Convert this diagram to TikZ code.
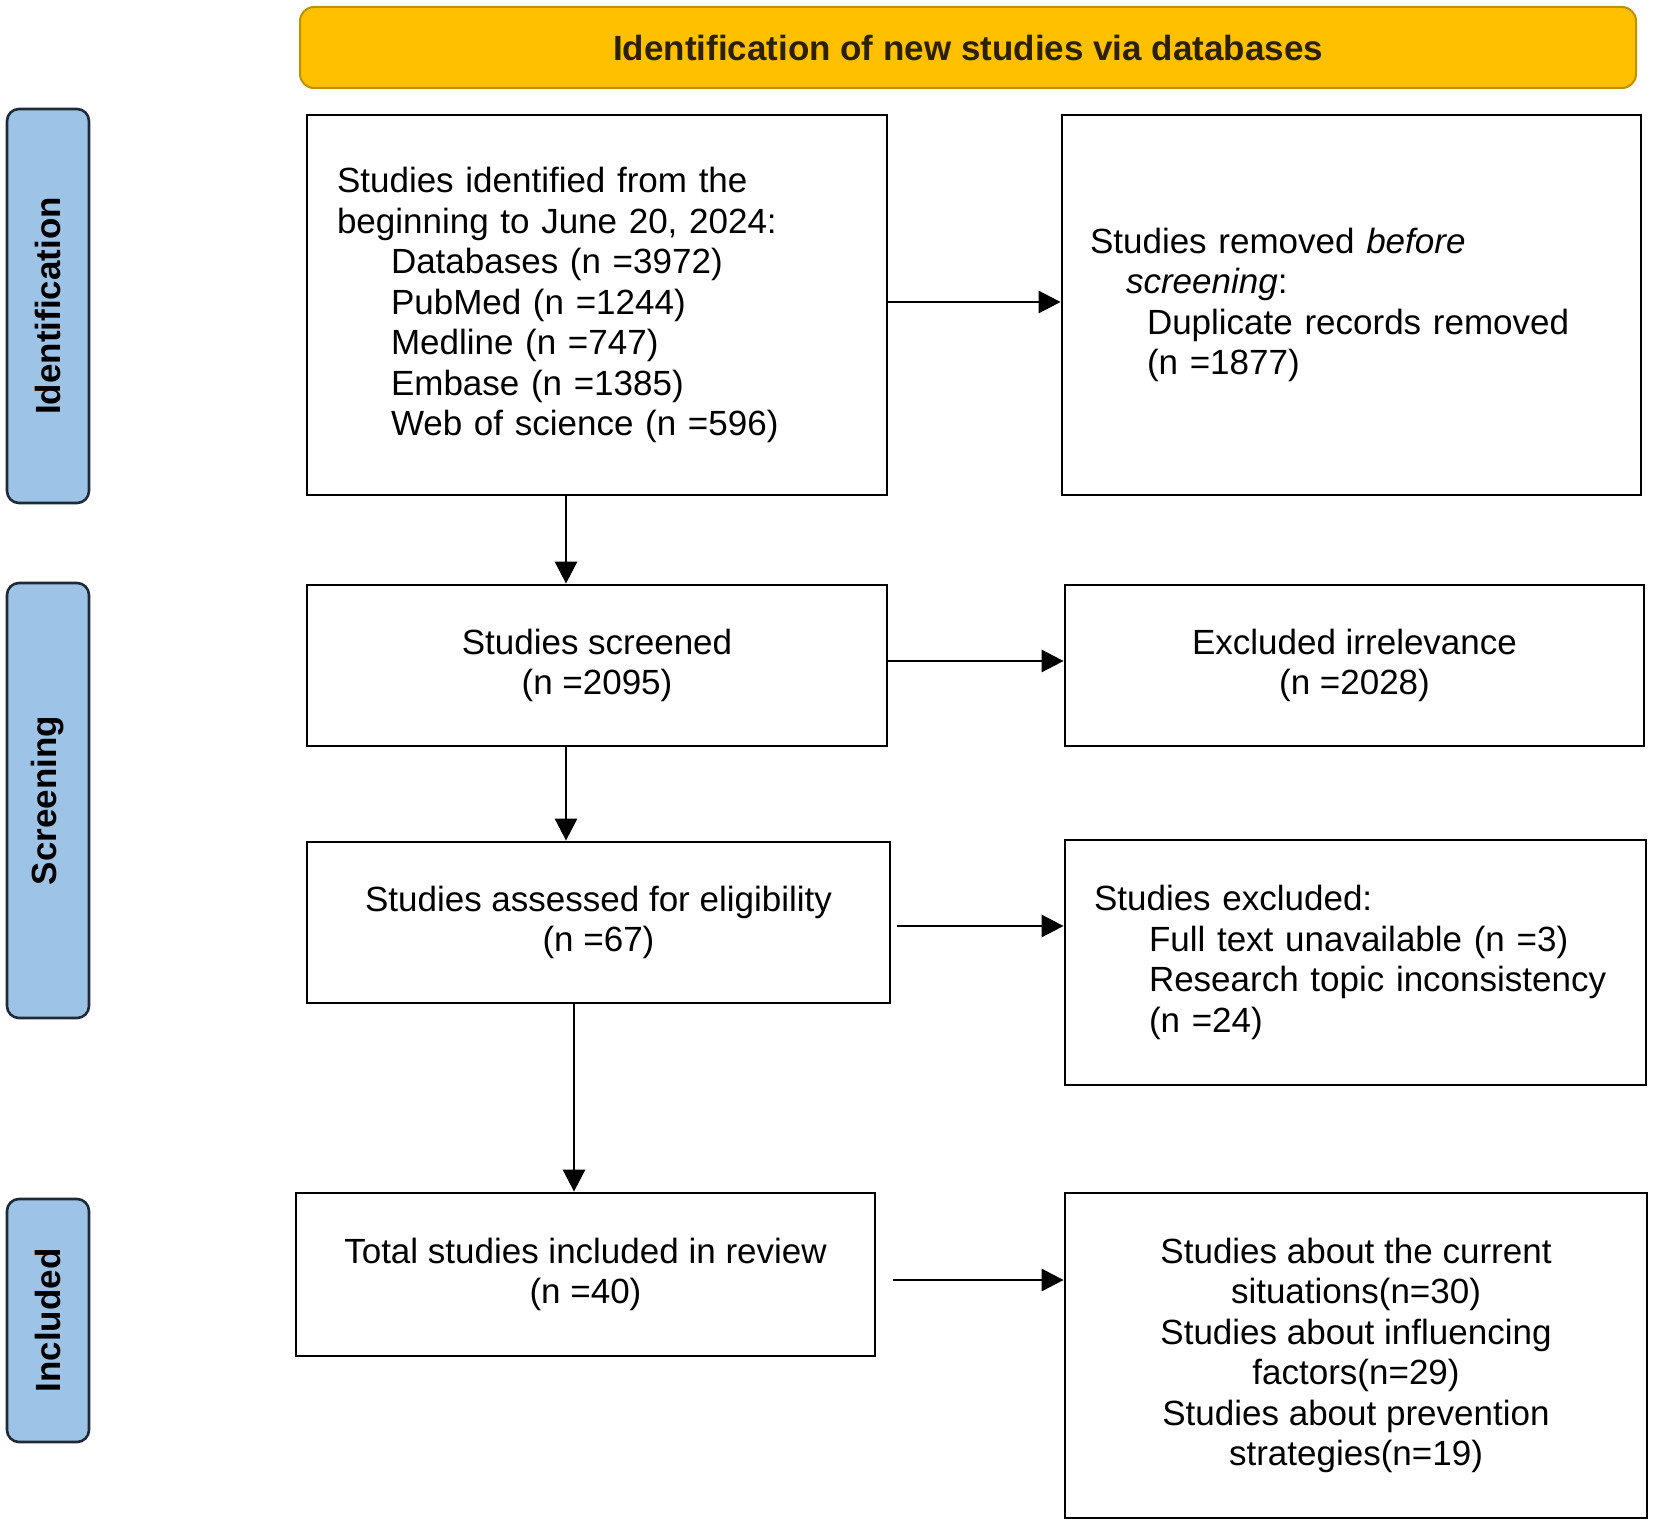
\documentclass[tikz,border=0pt]{standalone}
\usepackage{fontspec}
\setmainfont{Liberation Sans}
\usetikzlibrary{arrows.meta,calc}
\definecolor{hdrfill}{HTML}{FFC000}
\definecolor{hdrline}{HTML}{BF9000}
\definecolor{hdrtext}{HTML}{2B2100}
\definecolor{sidefill}{HTML}{9DC3E6}
\definecolor{sideline}{HTML}{1E2A38}
\begin{document}
\begin{tikzpicture}[x=0.5pt,y=-0.5pt,
  box/.style={draw=black, line width=1.4pt, inner sep=0pt, align=center,
    font=\fontsize{17.5pt}{20.25pt}\selectfont},
  side/.style={draw=sideline, fill=sidefill, line width=1.3pt, rounded corners=6pt,
    inner sep=0pt, minimum height=41pt, rotate=90,
    font=\bfseries\fontsize{17.5pt}{20.25pt}\selectfont},
  hdr/.style={draw=hdrline, fill=hdrfill, line width=1pt, rounded corners=7pt,
    inner sep=0pt, text=hdrtext, font=\bfseries\fontsize{17.5pt}{20.25pt}\selectfont},
  arr/.style={-{Triangle[length=11pt,width=11pt]}, line width=1.4pt}]
\useasboundingbox (0,0) rectangle (1654,1525);

% header
\node[hdr, minimum width=668pt, minimum height=40.5pt] (head) at (968,47.5)
  {Identification of new studies via databases};

% side labels
\node[side, minimum width=197pt] (sid) at (48,306) {Identification};
\node[side, minimum width=217.5pt] (sscr) at (48,800.5) {Screening};
\node[side, minimum width=121.5pt] (sinc) at (48,1320.5) {Included};

% boxes
\node[box, minimum width=290pt, minimum height=190pt, text width=260pt, align=left] (b1) at (597,305)
  {Studies identified from the\\
   beginning to June 20, 2024:\\
   \hspace*{27pt}Databases (n =3972)\\
   \hspace*{27pt}PubMed (n =1244)\\
   \hspace*{27pt}Medline (n =747)\\
   \hspace*{27pt}Embase (n =1385)\\
   \hspace*{27pt}Web of science (n =596)};

\node[box, minimum width=289.5pt, minimum height=190pt, text width=261.5pt, align=left] (b2) at (1351.5,305)
  {Studies removed \textit{before}\\
   \hspace*{18pt}\textit{screening}:\\
   \hspace*{28.5pt}Duplicate records removed\\
   \hspace*{28.5pt}(n =1877)};

\node[box, minimum width=290pt, minimum height=80.5pt] (b3) at (597,665.5)
  {Studies screened\\(n =2095)};

\node[box, minimum width=289.5pt, minimum height=80.5pt] (b4) at (1354.5,665.5)
  {Excluded irrelevance\\(n =2028)};

\node[box, minimum width=291.5pt, minimum height=80.5pt] (b5) at (598.5,922.5)
  {Studies assessed for eligibility\\(n =67)};

\node[box, minimum width=290.5pt, minimum height=122.5pt, text width=261.5pt, align=left] (b6) at (1355.5,962.5)
  {Studies excluded:\\
   \hspace*{27.5pt}Full text unavailable (n =3)\\
   \hspace*{27.5pt}Research topic inconsistency\\
   \hspace*{27.5pt}(n =24)};

\node[box, minimum width=289.5pt, minimum height=81.5pt] (b7) at (585.5,1274.5)
  {Total studies included in review\\(n =40)};

\node[box, minimum width=291pt, minimum height=162.5pt] (b8) at (1356,1355.5)
  {Studies about the current\\
   situations(n=30)\\
   Studies about influencing\\
   factors(n=29)\\
   Studies about prevention\\
   strategies(n=19)};

% connector anchor points
\coordinate (p1) at ($(b1.south)+(-15.5pt,0)$);
\coordinate (p3) at ($(b3.south)+(-15.5pt,0)$);
\coordinate (p5) at ($(b5.south)+(-12.25pt,0)$);
\coordinate (q1) at ($(b1.east)+(0,1.5pt)$);
\coordinate (q3) at ($(b3.east)+(0,2.25pt)$);
\coordinate (q5) at ($(b5.east)+(3pt,-1.75pt)$);
\coordinate (q7) at ($(b7.east)+(8.5pt,-2.75pt)$);

% arrows
\draw[arr] (q1) -- (q1 -| b2.west);
\draw[arr] (q3) -- (q3 -| b4.west);
\draw[arr] (q5) -- (q5 -| b6.west);
\draw[arr] (q7) -- (q7 -| b8.west);
\draw[arr] (p1) -- (p1 |- b3.north);
\draw[arr] (p3) -- (p3 |- b5.north);
\draw[arr] (p5) -- (p5 |- b7.north);
\end{tikzpicture}
\end{document}
